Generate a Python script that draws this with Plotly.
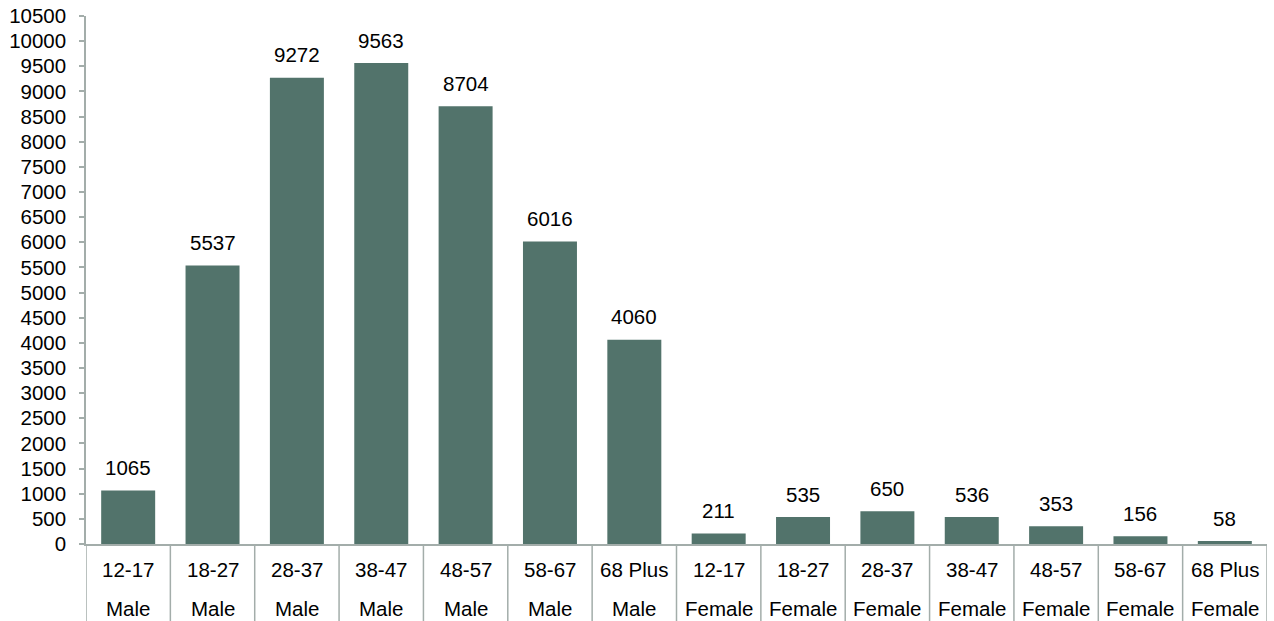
import plotly.graph_objects as go

age_groups = ["12-17", "18-27", "28-37", "38-47", "48-57", "58-67", "68 Plus",
              "12-17", "18-27", "28-37", "38-47", "48-57", "58-67", "68 Plus"]
genders = ["Male"] * 7 + ["Female"] * 7
counts = [1065, 5537, 9272, 9563, 8704, 6016, 4060,
          211, 535, 650, 536, 353, 156, 58]

BAR = "#52736B"
AXIS = "#A3ADAA"
FONT = "Liberation Sans, Arial, sans-serif"
FS = 20.5
n = len(counts)
xs = list(range(n))

fig = go.Figure(go.Bar(x=xs, y=counts, marker_color=BAR, marker_line_width=0,
                       hoverinfo="skip"))

ann = []
for i, (v, a, g) in enumerate(zip(counts, age_groups, genders)):
    ann.append(dict(x=i, y=v, xref="x", yref="y", text=str(v), showarrow=False,
                    yanchor="middle", yshift=23, font=dict(size=FS, color="#000", family=FONT)))
    ann.append(dict(x=i, y=0, xref="x", yref="paper", text=a, showarrow=False,
                    yanchor="middle", yshift=-25, font=dict(size=FS, color="#000", family=FONT)))
    ann.append(dict(x=i, y=0, xref="x", yref="paper", text=g, showarrow=False,
                    yanchor="middle", yshift=-64, font=dict(size=FS, color="#000", family=FONT)))

W, H = 1274, 621
M = dict(l=86, r=7, t=16, b=77)
plot_h = H - M["t"] - M["b"]
shapes = []
for i in range(n + 1):
    shapes.append(dict(type="line", xref="x", yref="paper", x0=i - 0.5, x1=i - 0.5,
                       y0=0, y1=-(M["b"] + 2) / plot_h, line=dict(color=AXIS, width=1.5)))

fig.update_layout(
    width=W, height=H,
    margin=dict(**M, autoexpand=False),
    plot_bgcolor="white", paper_bgcolor="white",
    bargap=0.36, showlegend=False,
    annotations=ann, shapes=shapes,
    font=dict(family=FONT, size=FS, color="#000"),
)
fig.update_xaxes(range=[-0.5, n - 0.5], showticklabels=False, showline=True, automargin=False,
                 linecolor=AXIS, linewidth=1.5, showgrid=False, zeroline=False, ticks="")
fig.update_yaxes(range=[0, 10500], dtick=500, tick0=0, tickformat="d", showline=True,
                 linecolor=AXIS, automargin=False, ticklabeloverflow="allow",
                 linewidth=1.5, ticks="outside", ticklen=5, tickcolor=AXIS, tickwidth=1.5,
                 showgrid=False, zeroline=False, ticklabelstandoff=9,
                 tickfont=dict(size=FS, family=FONT, color="#000"))

fig.write_html("out.html", config={"displayModeBar": False},
               post_script="document.body.style.margin='0';document.body.style.overflow='hidden';")
